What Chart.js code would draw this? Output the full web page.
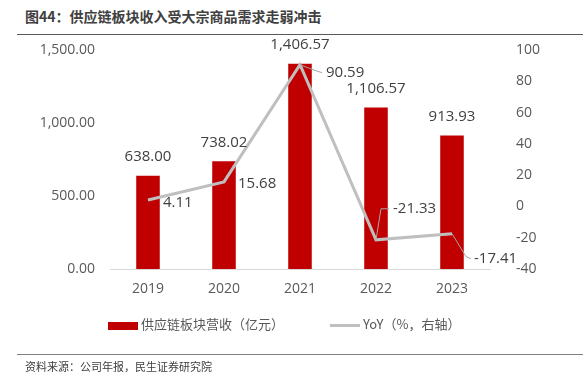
<!DOCTYPE html>
<html><head><meta charset="utf-8">
<script src="https://cdn.jsdelivr.net/npm/chart.js@4/dist/chart.umd.min.js"></script>
<style>
html,body{margin:0;padding:0;background:#fff;width:583px;height:383px;overflow:hidden;}
#wrap{position:absolute;left:0;top:0;width:583px;height:383px;}
#title{position:absolute;left:25px;top:6px;font:bold 14px "Noto Sans CJK SC","Noto Sans",sans-serif;color:#404040;white-space:nowrap;}
#tline{position:absolute;left:17px;top:34px;width:566px;height:1px;background:#595959;}
#sline{position:absolute;left:17px;top:354px;width:566px;height:1px;background:#7f7f7f;}
#source{position:absolute;left:25px;top:358px;font:11px "Noto Sans CJK SC",sans-serif;color:#404040;white-space:nowrap;}
.leg{position:absolute;top:314px;font:13px "Noto Sans CJK SC","Open Sans",sans-serif;color:#595959;white-space:nowrap;}
.sw1{position:absolute;left:108px;top:322px;width:30px;height:8px;background:#C00000;}
.sw2{position:absolute;left:330px;top:324px;width:30px;height:3px;background:#BFBFBF;}
canvas{position:absolute;left:0;top:0;}
</style></head><body>
<div id="wrap">
<div id="title">图44：供应链板块收入受大宗商品需求走弱冲击</div>
<div id="tline"></div>
<canvas id="c" width="583" height="383"></canvas>
<div class="sw1"></div><div class="leg" style="left:141px">供应链板块营收（亿元）</div>
<div class="sw2"></div><div class="leg" style="left:363px">YoY（%，右轴）</div>
<div id="sline"></div>
<div id="source">资料来源：公司年报，民生证券研究院</div>
</div>
<script>
const categories = ["2019","2020","2021","2022","2023"];
const revenue = [638.00, 738.02, 1406.57, 1106.57, 913.93];
const yoy = [4.11, 15.68, 90.59, -21.33, -17.41];
const revLabels = ["638.00","738.02","1,406.57","1,106.57","913.93"];
const yoyLabels = ["4.11","15.68","90.59","-21.33","-17.41"];

const fmt = v => v.toLocaleString('en-US',{minimumFractionDigits:2,maximumFractionDigits:2});
const numFont = '"Open Sans","Noto Sans",sans-serif';

const lineLabelStyle = [
  {lead:null, tx:15, ty:3},
  {lead:null, tx:14, ty:2},
  {lead:[[16,6],[22,8]], tx:26, ty:8},
  {lead:[[5,-31],[13,-31]], tx:17, ty:-31},
  {lead:[[14,23],[19,25]], tx:22, ty:25}
];

const labelPlugin = {
  id:'labels',
  afterDatasetsDraw(chart){
    const ctx = chart.ctx;
    ctx.save();
    ctx.font = '15px ' + numFont;
    ctx.fillStyle = '#404040';
    ctx.textBaseline = 'middle';
    const bars = chart.getDatasetMeta(1).data;
    bars.forEach((b,i)=>{
      ctx.textAlign='center';
      ctx.fillText(revLabels[i], b.x, b.y-19);
    });
    const pts = chart.getDatasetMeta(0).data;
    pts.forEach((p,i)=>{
      const s = lineLabelStyle[i];
      if(s.lead){
        ctx.strokeStyle='#A6A6A6'; ctx.lineWidth=1;
        ctx.beginPath(); ctx.moveTo(p.x,p.y);
        s.lead.forEach(q=>ctx.lineTo(p.x+q[0],p.y+q[1]));
        ctx.stroke();
      }
      ctx.textAlign='left';
      ctx.fillStyle='#404040';
      ctx.fillText(yoyLabels[i], p.x+s.tx, p.y+s.ty);
    });
    ctx.restore();
  }
};

new Chart(document.getElementById('c'), {
  data:{
    labels:categories,
    datasets:[
      {type:'line', label:'YoY（%，右轴）', data:yoy, yAxisID:'y2', borderColor:'#BFBFBF', backgroundColor:'#BFBFBF', borderWidth:3, pointRadius:0, tension:0, order:0},
      {type:'bar', label:'供应链板块营收（亿元）', data:revenue, yAxisID:'y', backgroundColor:'#C00000', barPercentage:0.31, categoryPercentage:1, order:1}
    ]
  },
  options:{
    responsive:false, animation:false,
    layout:{padding:{left:0,right:0,top:50,bottom:90}},
    plugins:{legend:{display:false}, tooltip:{enabled:false}},
    scales:{
      x:{
        grid:{display:false, drawTicks:false},
        border:{display:true,color:'#D9D9D9',width:1},
        ticks:{color:'#595959',font:{size:14,family:numFont},padding:12},
        afterFit(s){s.height=24;}
      },
      y:{
        position:'left', min:0, max:1500,
        grid:{display:false, drawTicks:false},
        border:{display:false},
        ticks:{stepSize:500,color:'#595959',font:{size:14,family:numFont},padding:15,callback:v=>fmt(v)},
        afterFit(s){s.width=110;}
      },
      y2:{
        position:'right', min:-40, max:100,
        grid:{display:false, drawTicks:false},
        border:{display:false},
        ticks:{stepSize:20,color:'#595959',font:{size:14,family:numFont},padding:26},
        afterFit(s){s.width=93;}
      }
    }
  },
  plugins:[labelPlugin]
});
</script>
</body></html>
